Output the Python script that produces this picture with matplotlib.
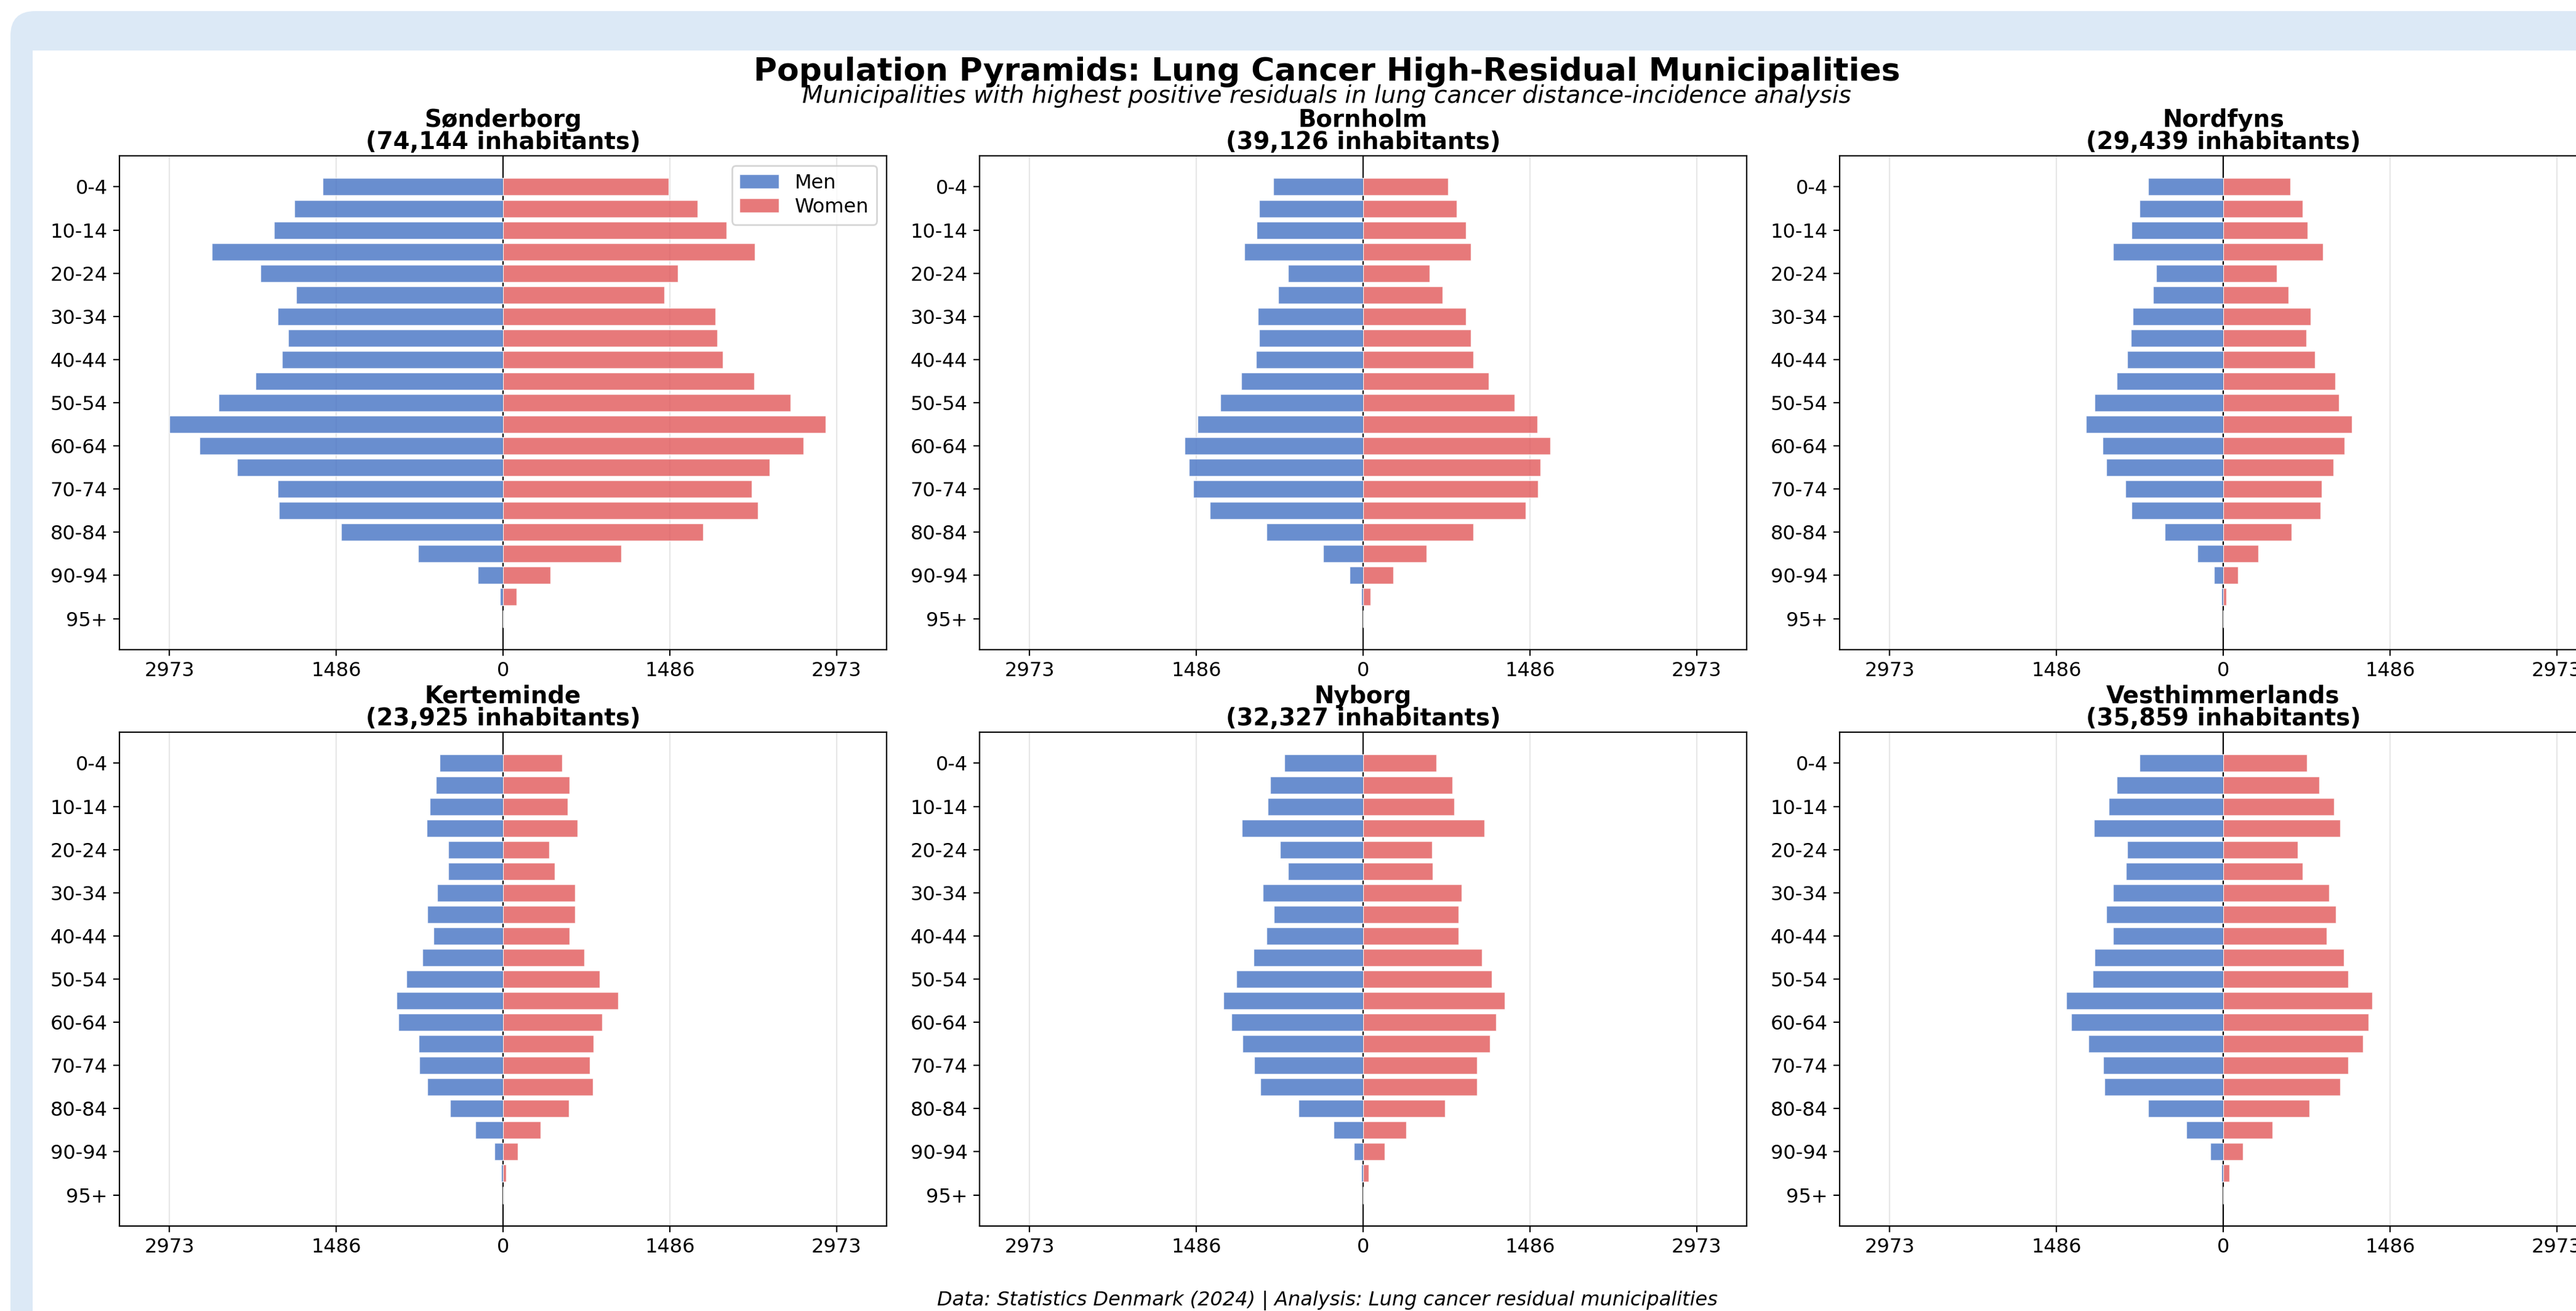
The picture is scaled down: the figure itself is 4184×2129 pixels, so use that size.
import numpy as np
import matplotlib
matplotlib.use('Agg')
import matplotlib.pyplot as plt
from matplotlib.patches import FancyBboxPatch, Rectangle

# output size in pixels
W, H, DPI = 4184, 2129, 200

# age groups shown on the y axis (every second group is labelled)
age_ticks = ['0-4', '10-14', '20-24', '30-34', '40-44', '50-54',
             '60-64', '70-74', '80-84', '90-94', '95+']

names = ['Sønderborg', 'Bornholm', 'Nordfyns', 'Kerteminde', 'Nyborg', 'Vesthimmerlands']
population = [74144, 39126, 29439, 23925, 32327, 35859]

# population per 5-year age group
sonderborg_men = [1609, 1859, 2041, 2595, 2164, 1845, 2007, 1913, 1972, 2208, 2536,
                  2973, 2708, 2370, 2007, 1997, 1442, 756, 226, 29, 0]
sonderborg_women = [1477, 1732, 1992, 2242, 1560, 1437, 1894, 1908, 1957, 2237, 2561,
                    2875, 2679, 2374, 2218, 2271, 1786, 1055, 422, 118, 0]
bornholm_men = [802, 929, 950, 1061, 670, 757, 939, 929, 955, 1087, 1275,
                1478, 1594, 1554, 1513, 1366, 863, 355, 122, 15, 0]
bornholm_women = [757, 833, 914, 960, 594, 706, 914, 960, 980, 1117, 1351,
                  1554, 1666, 1579, 1559, 1447, 980, 564, 269, 66, 0]
nordfyns_men = [669, 747, 815, 980, 597, 626, 805, 825, 854, 951, 1145,
                1222, 1077, 1043, 873, 815, 524, 233, 82, 19, 0]
nordfyns_women = [597, 708, 752, 888, 480, 582, 781, 742, 815, 999, 1033,
                  1149, 1082, 980, 878, 868, 611, 315, 131, 29, 0]
kerteminde_men = [564, 599, 652, 682, 486, 486, 589, 677, 618, 721, 859,
                  947, 932, 751, 746, 677, 471, 245, 78, 15, 0]
kerteminde_women = [525, 594, 574, 662, 412, 461, 643, 643, 594, 726, 863,
                    1025, 883, 805, 775, 800, 589, 334, 132, 29, 0]
nyborg_men = [701, 828, 848, 1082, 741, 670, 894, 797, 863, 975, 1132,
              1244, 1173, 1077, 970, 919, 574, 264, 81, 15, 0]
nyborg_women = [655, 797, 812, 1082, 614, 620, 878, 848, 848, 1061, 1148,
                1264, 1188, 1132, 1016, 1016, 731, 386, 193, 51, 0]
vesthimmerlands_men = [747, 951, 1019, 1154, 858, 868, 985, 1043, 985, 1145, 1164,
                       1402, 1358, 1203, 1072, 1057, 669, 330, 116, 19, 0]
vesthimmerlands_women = [747, 858, 989, 1043, 664, 708, 946, 1004, 922, 1077, 1116,
                         1329, 1295, 1246, 1116, 1043, 766, 437, 175, 53, 0]

men_all = [sonderborg_men, bornholm_men, nordfyns_men, kerteminde_men, nyborg_men, vesthimmerlands_men]
women_all = [sonderborg_women, bornholm_women, nordfyns_women, kerteminde_women, nyborg_women, vesthimmerlands_women]

men_color = '#4472C4'
women_color = '#E15759'

fig = plt.figure(figsize=(W / DPI, H / DPI), dpi=DPI, facecolor='white')

# light blue frame with a white card inside (pixel coordinates, y from bottom)
px = fig.dpi_scale_trans
frame = FancyBboxPatch((17 / DPI, -100 / DPI), (W + 200 - 17) / DPI, (H - 18 + 100) / DPI,
                       boxstyle='round,pad=0,rounding_size=0.2', transform=px,
                       facecolor='#dce9f6', edgecolor='none', zorder=-10)
card = Rectangle((53 / DPI, -100 / DPI), (W + 200) / DPI, (H - 82 + 100) / DPI,
                 transform=px, facecolor='white', edgecolor='none', zorder=-9)
fig.add_artist(frame)
fig.add_artist(card)

fig.text(2155 / W, 1 - 117 / H, 'Population Pyramids: Lung Cancer High-Residual Municipalities',
         ha='center', va='center', fontsize=18.7, fontweight='bold')
fig.text(2155 / W, 1 - 156 / H,
         'Municipalities with highest positive residuals in lung cancer distance-incidence analysis',
         ha='center', va='center', fontsize=14, style='italic')
fig.text(2156 / W, 1 - 2112 / H,
         'Data: Statistics Denmark (2024) | Analysis: Lung cancer residual municipalities',
         ha='center', va='center', fontsize=11.5, style='italic')

# common x scale for all panels
max_val = max(max(max(m) for m in men_all), max(max(w) for w in women_all))
xticks = [-max_val, -max_val / 2, 0, max_val / 2, max_val]

# axes layout in pixels
col_left = [194, 1591, 2988]
row_top = [253, 1189]
ax_w, ax_h = 1246, 802

for i in range(6):
    r, c = divmod(i, 3)
    ax = fig.add_axes([col_left[c] / W, 1 - (row_top[r] + ax_h) / H, ax_w / W, ax_h / H])
    y = np.arange(len(men_all[i]))
    ax.axvline(0, color='black', linewidth=0.8, zorder=1)
    ax.barh(y, -np.array(men_all[i]), height=0.8, color=men_color, alpha=0.8,
            edgecolor='white', linewidth=0.5, label='Men', zorder=2)
    ax.barh(y, women_all[i], height=0.8, color=women_color, alpha=0.8,
            edgecolor='white', linewidth=0.5, label='Women', zorder=2)
    ax.set_yticks(y[::2])
    ax.set_yticklabels(age_ticks)
    ax.invert_yaxis()
    ax.set_xlim(-max_val * 1.15, max_val * 1.15)
    ax.set_xticks(xticks)
    ax.set_xticklabels([str(int(abs(v))) for v in xticks])
    ax.tick_params(labelsize=11.5)
    ax.grid(axis='x', alpha=0.3)
    ax.set_axisbelow(True)
    ax.set_title(f'{names[i]}\n({population[i]:,} inhabitants)', fontsize=13.9,
                 fontweight='bold', linespacing=0.95, pad=3.8)
    if i == 0:
        ax.legend(loc='upper right', fontsize=11.5, labelspacing=0.25)

fig.savefig('out.png', dpi=DPI)
